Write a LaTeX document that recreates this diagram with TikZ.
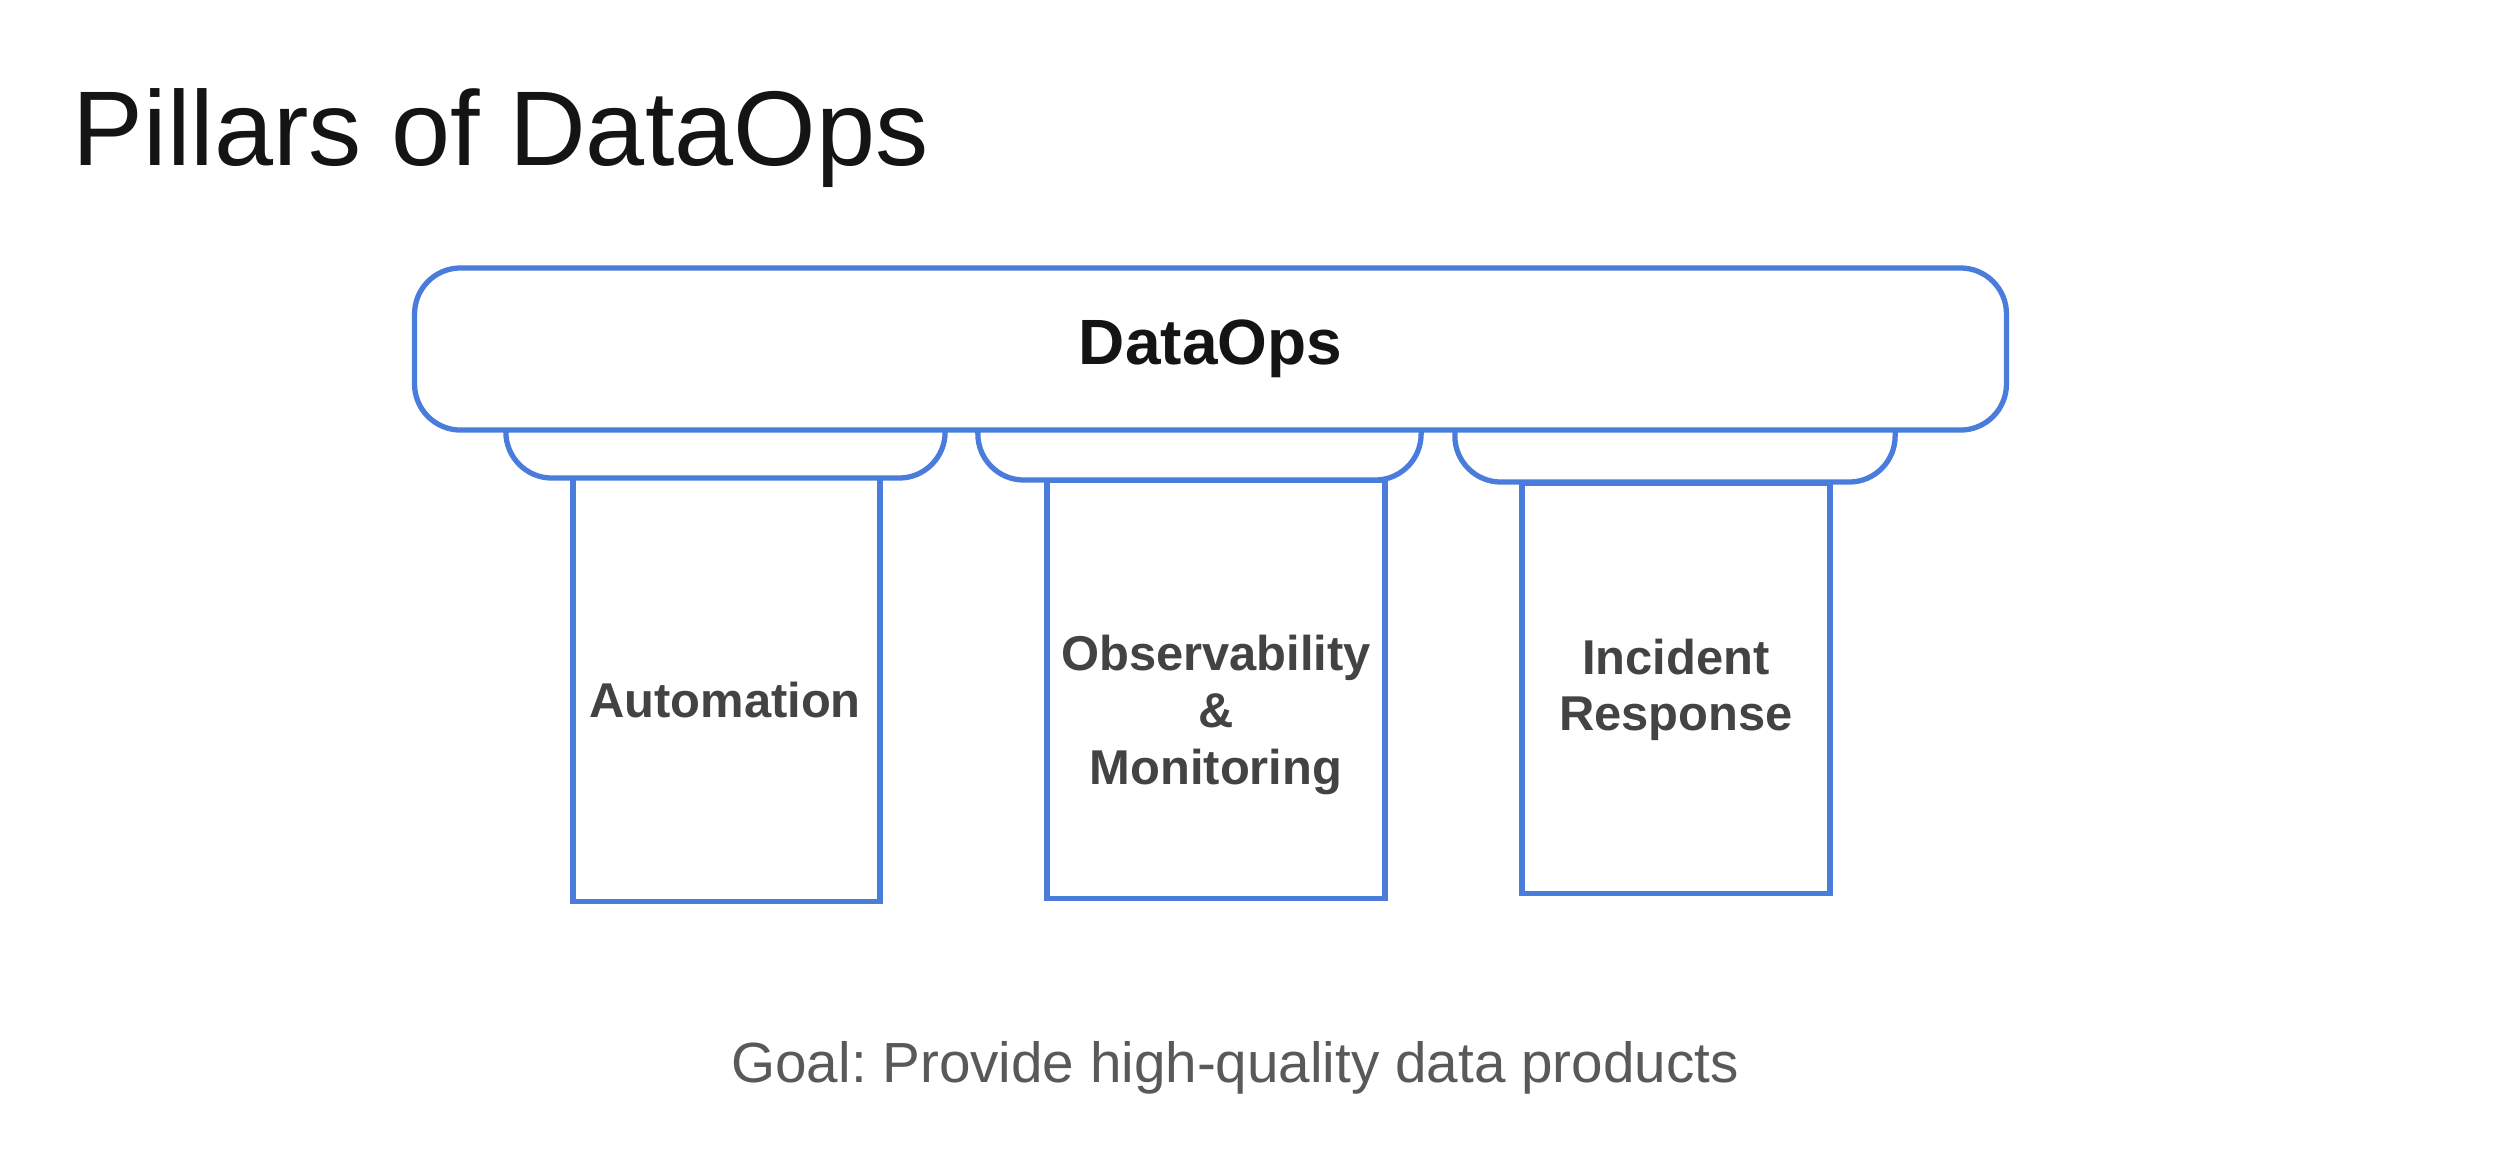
\documentclass[tikz,border=0pt]{standalone}
\usepackage{fontspec}
\setmainfont{Liberation Sans}
\frenchspacing
\definecolor{pblue}{RGB}{74,124,220}
\definecolor{titlecol}{RGB}{20,20,20}
\definecolor{labelcol}{RGB}{67,67,67}
\definecolor{goalcol}{RGB}{89,89,89}
\begin{document}
\begin{tikzpicture}[x=0.01cm,y=-0.01cm,
  outline/.style={draw=pblue, line width=1.5pt, fill=white, inner sep=0pt, outer sep=0pt},
  topbox/.style={outline, rounded corners=0.46cm, minimum width=15.91cm, minimum height=1.62cm,
    font=\fontsize{18.2pt}{22pt}\selectfont\bfseries, text=titlecol},
  capital/.style={outline, rounded corners=0.46cm},
  pillar/.style={outline},
  plabel/.style={inner sep=0pt, align=center, text=labelcol,
    font=\fontsize{13.9pt}{16.1pt}\selectfont\bfseries},
  ]
\useasboundingbox (0,0) rectangle (2494,1172);
\fill[white] (0,0) rectangle (2494,1172);

% title
\node[anchor=base west, inner sep=0pt, text=titlecol, font=\fontsize{30.2pt}{36pt}\selectfont]
  (title) at (72,165) {Pillars of DataOps};

% pillars
\node[pillar, minimum width=3.07cm, minimum height=4.24cm] (p1) at (726.5,689) {};
\node[pillar, minimum width=3.38cm, minimum height=4.18cm] (p2) at (1216,689) {};
\node[pillar, minimum width=3.08cm, minimum height=4.10cm] (p3) at (1676,688) {};

% capitals
\node[capital, minimum width=4.39cm, minimum height=0.96cm] (c1) at (725.5,430) {};
\node[capital, minimum width=4.43cm, minimum height=0.98cm] (c2) at (1199.5,431) {};
\node[capital, minimum width=4.40cm, minimum height=1.00cm] (c3) at (1675,432) {};

% top beam
\node[topbox] (top) at (1210.5,349) {DataOps};

% pillar labels
\node[plabel] (l1) at (725,700) {Automation};
\node[plabel] (l2) at (1216,715) {Observability\\\&\\Monitoring};
\node[plabel] (l3) at (1676,690) {Incident\\Response};

% goal
\node[anchor=base, inner sep=0pt, text=goalcol, font=\fontsize{16.1pt}{19pt}\selectfont]
  (goal) at (1235,1082) {Goal: Provide high-quality data products};
\end{tikzpicture}
\end{document}
